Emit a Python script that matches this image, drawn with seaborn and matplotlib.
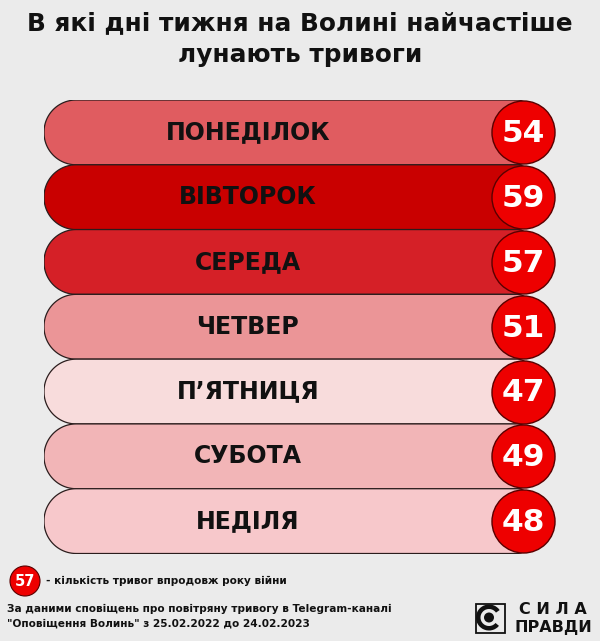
import matplotlib
matplotlib.use("Agg")
import numpy as np
import matplotlib.pyplot as plt
import seaborn as sns
import pandas as pd
from matplotlib.patches import Circle, Rectangle, PathPatch, Wedge
from matplotlib.path import Path

# ---- data ----
days = ["ПОНЕДІЛОК", "ВІВТОРОК", "СЕРЕДА", "ЧЕТВЕР", "П’ЯТНИЦЯ", "СУБОТА", "НЕДІЛЯ"]
alerts = [54, 59, 57, 51, 47, 49, 48]
title_lines = ["В які дні тижня на Волині найчастіше", "лунають тривоги"]
legend_value = 57
legend_text = "- кількість тривог впродовж року війни"
source_lines = ["За даними сповіщень про повітряну тривогу в Telegram-каналі",
                "\"Оповіщення Волинь\" з 25.02.2022 до 24.02.2023"]
logo_lines = ["С И Л А", "ПРАВДИ"]

# ---- style ----
bar_colors = ["#e05c60", "#c90000", "#d52027", "#eb9597", "#f8dcdc", "#f2b5b7", "#f7c8cb"]
BG = "#ebebeb"
INK = "#111111"

sns.set_theme(style="white")
plt.rcParams["font.family"] = ["DejaVu Sans"]

W, H = 600, 641
fig = plt.figure(figsize=(6, 6.41), dpi=100, facecolor=BG)

# bar axes (x units == pixels)
left_px, top_px, bottom_px = 44, 100, 553.5
ax = fig.add_axes([left_px / W, 1 - bottom_px / H, (W - left_px) / W, (bottom_px - top_px) / H])
ax.set_facecolor(BG)
xmax = W - left_px
bar_end = 523 - left_px
row_px = (bottom_px - top_px) / len(days)

df = pd.DataFrame({"day": days, "alerts": alerts})
df["span"] = bar_end

sns.barplot(data=df, x="span", y="day", hue="day", palette=bar_colors, width=1.0,
            legend=False, ax=ax, saturation=1)


def rounded_path(x, y, w, h, rl, rr, ppy):
    """Rounded bar outline; x/w/rl/rr in px units, y/h in data units."""
    pts = []

    def arc(cx, cy, r, a0, a1):
        t = np.radians(np.linspace(a0, a1, 24))
        return list(zip(cx + r * np.cos(t), cy + r * np.sin(t) / ppy))

    y0, y1 = y, y + h
    pts += arc(x + w - rr, y0 + rr / ppy, rr, -90, 0)
    pts += arc(x + w - rr, y1 - rr / ppy, rr, 0, 90)
    pts += arc(x + rl, y1 - rl / ppy, rl, 90, 180)
    pts += arc(x + rl, y0 + rl / ppy, rl, 180, 270)
    pts.append(pts[0])
    codes = [Path.MOVETO] + [Path.LINETO] * (len(pts) - 2) + [Path.CLOSEPOLY]
    return Path(pts, codes)


for p in list(ax.patches):
    x, y, w, h = p.get_x(), p.get_y(), p.get_width(), p.get_height()
    fc = p.get_facecolor()
    p.remove()
    path = rounded_path(x, y, w + 8, h, row_px / 2 - 0.3, 14, row_px)
    ax.add_patch(PathPatch(path, facecolor=fc, edgecolor="#2b1d1d", linewidth=0.9, zorder=2))

sns.scatterplot(data=df, x="span", y="day", s=2060, color="#ee0000",
                edgecolor="#5a0000", linewidth=1.0, zorder=4, ax=ax, legend=False)

for i, (d, v) in enumerate(zip(days, alerts)):
    ax.text(204, i, d, ha="center", va="center", fontsize=17, fontweight="bold",
            color=INK, zorder=5)
    ax.text(bar_end, i + 0.02, str(v), ha="center", va="center", fontsize=22.5,
            fontweight="bold", color="white", zorder=5)

ax.set_xlim(0, xmax)
ax.set_ylim(len(days) - 0.5, -0.5)
ax.axis("off")

# overlay axes in pixel coordinates
ov = fig.add_axes([0, 0, 1, 1])
ov.set_xlim(0, W)
ov.set_ylim(H, 0)
ov.axis("off")
ov.patch.set_alpha(0)

ov.text(300, 30, title_lines[0], ha="center", va="baseline", fontsize=17.8,
        fontweight="bold", color=INK)
ov.text(300, 62, title_lines[1], ha="center", va="baseline", fontsize=17.8,
        fontweight="bold", color=INK)

# legend
ov.add_patch(Circle((25, 581), 15, facecolor="#ee0000", edgecolor="#5a0000", lw=0.8))
ov.text(25, 581.5, str(legend_value), ha="center", va="center", fontsize=10.5,
        fontweight="bold", color="white")
ov.text(46, 581, legend_text, ha="left", va="center", fontsize=7.6,
        fontweight="bold", color=INK)

ov.text(7, 609, source_lines[0], ha="left", va="center", fontsize=7.6,
        fontweight="bold", color=INK)
ov.text(7, 623, source_lines[1], ha="left", va="center", fontsize=7.6,
        fontweight="bold", color=INK)

# logo
ov.add_patch(Rectangle((475.5, 603.5), 29, 29, fill=False, edgecolor=INK, lw=1.3))
ov.add_patch(Wedge((489, 617.5), 13, 40, 325, width=4.5, facecolor=INK, edgecolor="none"))
ov.add_patch(Circle((489, 617.5), 5, facecolor=INK, edgecolor="none"))
ov.text(553, 610, logo_lines[0], ha="center", va="center", fontsize=11.5,
        fontweight="bold", color=INK)
ov.text(553, 627.5, logo_lines[1], ha="center", va="center", fontsize=11.5,
        fontweight="bold", color=INK)

fig.savefig("out.png", dpi=100, facecolor=BG)
